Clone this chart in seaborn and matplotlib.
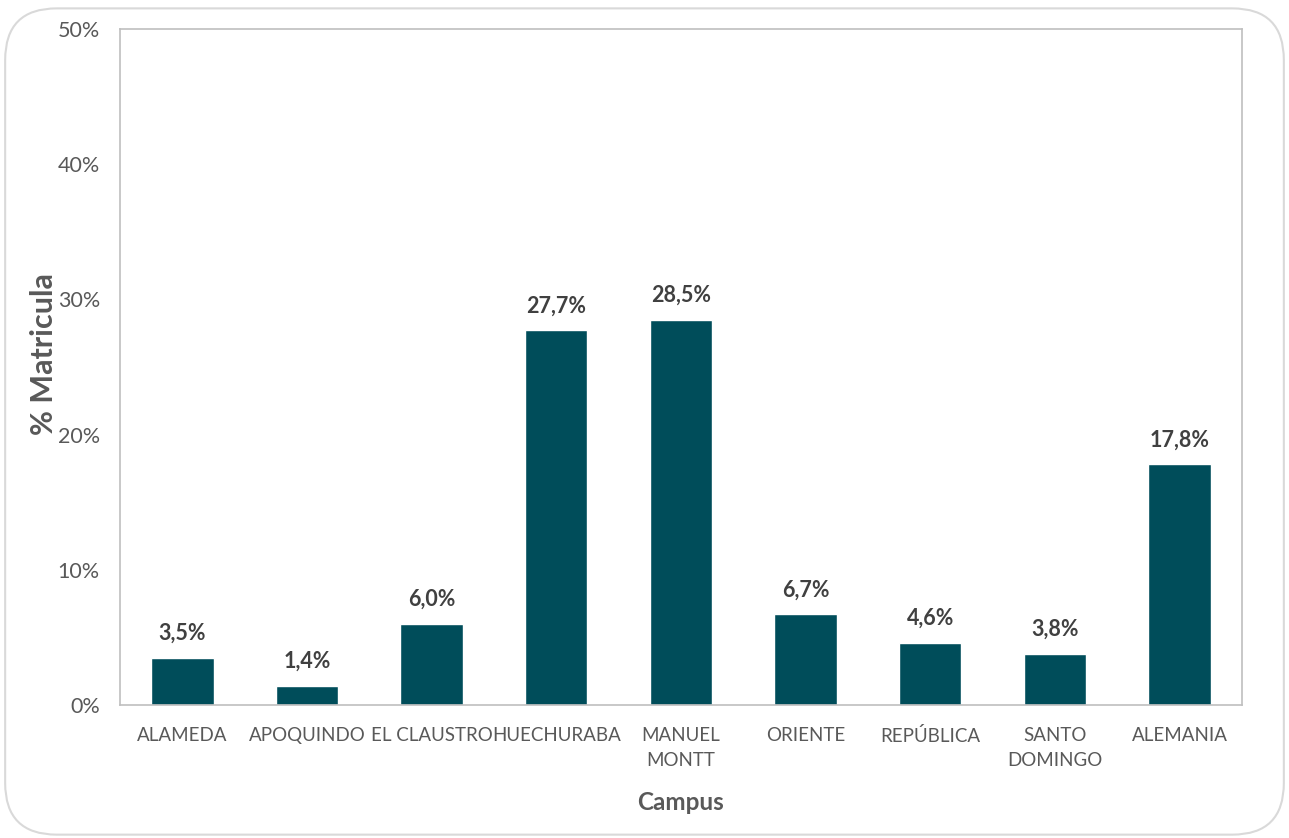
import matplotlib
matplotlib.use("Agg")
import matplotlib.pyplot as plt
import seaborn as sns
import pandas as pd
from matplotlib.patches import FancyBboxPatch
from matplotlib.ticker import PercentFormatter

# =============================
# DATA
# =============================
campus = ["ALAMEDA", "APOQUINDO", "EL CLAUSTRO", "HUECHURABA", "MANUEL\nMONTT",
          "ORIENTE", "REPÚBLICA", "SANTO\nDOMINGO", "ALEMANIA"]
matricula = [3.5, 1.4, 6.0, 27.7, 28.5, 6.7, 4.6, 3.8, 17.8]
value_labels = ["3,5%", "1,4%", "6,0%", "27,7%", "28,5%", "6,7%", "4,6%", "3,8%", "17,8%"]
y_ticks = [0, 10, 20, 30, 40, 50]

BAR_COLOR = "#004D5A"
TEXT_COLOR = "#595959"

sns.set_style("white")
plt.rcParams['font.family'] = ['Lato', 'DejaVu Sans']

df = pd.DataFrame({"campus": campus, "matricula": matricula})

fig = plt.figure(figsize=(12.89, 8.38), dpi=100)
ax = fig.add_axes([0.0931, 0.1587, 0.8704, 0.8067])

# rounded frame around the whole chart
frame = FancyBboxPatch((0.004, 0.004), 0.992, 0.986,
                       boxstyle="round,pad=0,rounding_size=0.04",
                       transform=fig.transFigure, facecolor="none",
                       edgecolor="#D9D9D9", linewidth=1.5,
                       mutation_aspect=1.54)
fig.patches.append(frame)

sns.barplot(data=df, x="campus", y="matricula", color=BAR_COLOR,
            width=0.5, saturation=1, ax=ax)

for i, (v, lab) in enumerate(zip(matricula, value_labels)):
    ax.annotate(lab, (i, v), xytext=(0, 10), textcoords="offset points",
                ha="center", va="bottom", fontsize=15.5, fontweight="bold",
                color="#404040")

ax.set_ylim(0, 50)
ax.set_yticks(y_ticks)
ax.yaxis.set_major_formatter(PercentFormatter(decimals=0))
ax.tick_params(axis="both", length=0, colors=TEXT_COLOR)
ax.tick_params(axis="y", pad=14.5, labelsize=15.5)
ax.tick_params(axis="x", pad=16, labelsize=13.5)
for t in ax.get_xticklabels():
    t.set_linespacing(1.55)

for s in ax.spines.values():
    s.set_visible(True)
    s.set_color("#BFBFBF")
    s.set_linewidth(1.2)

ax.set_xlabel("Campus", fontsize=17.5, fontweight="bold", color=TEXT_COLOR, labelpad=16)
ax.set_ylabel("% Matricula", fontsize=22, fontweight="bold", color=TEXT_COLOR)
ax.yaxis.set_label_coords(-0.055, 0.519)

fig.savefig("out.png", dpi=100)
